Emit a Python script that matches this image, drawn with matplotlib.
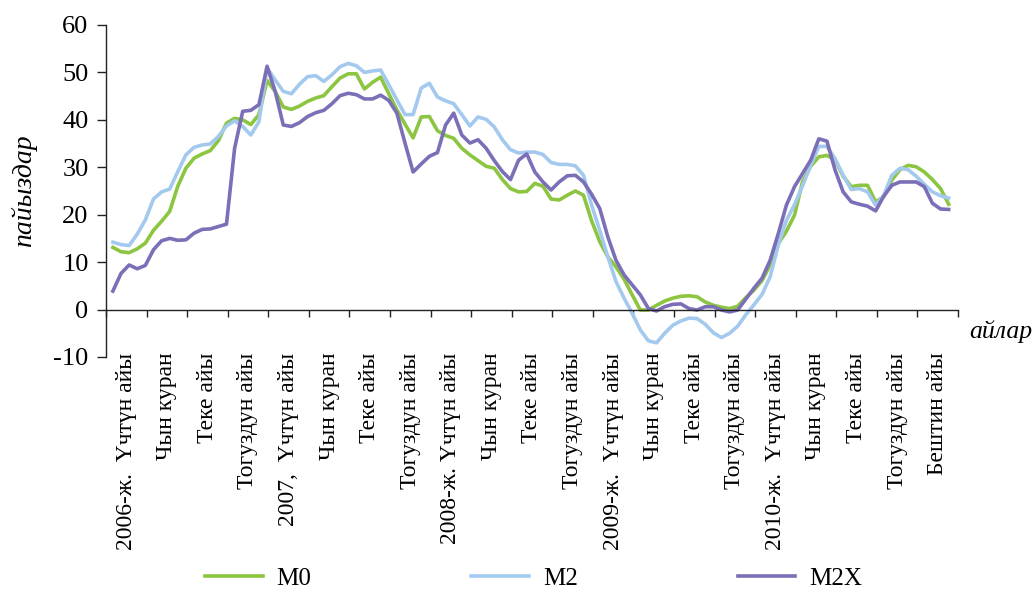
import numpy as np
import matplotlib
matplotlib.use("Agg")
import matplotlib.pyplot as plt
import matplotlib.transforms as mtransforms

plt.rcParams['font.family'] = ['Liberation Serif', 'DejaVu Serif']
plt.rcParams['axes.unicode_minus'] = False

# quarter labels (one per category band on the x axis)
quarters = ["2006-ж.  Үчтүн айы", "Чын куран", "Теке айы", "Тогуздун айы",
            "2007,  Үчтүн айы", "Чын куран", "Теке айы", "Тогуздун айы",
            "2008-ж. Үчтүн айы", "Чын куран", "Теке айы", "Тогуздун айы",
            "2009-ж.  Үчтүн айы", "Чын куран", "Теке айы", "Тогуздун айы",
            "2010-ж.  Үчтүн айы", "Чын куран", "Теке айы", "Тогуздун айы",
            "Бештин айы"]

m0 = [13.1, 12.2, 12.0, 12.8, 14.0, 16.7, 18.6, 20.7, 26.0, 29.8,
      31.9, 32.8, 33.5, 35.6, 39.3, 40.3, 40.0, 39.0, 41.1, 48.3,
      46.0, 42.7, 42.2, 42.9, 43.9, 44.6, 45.1, 47.0, 48.8, 49.7,
      49.7, 46.5, 47.9, 49.0, 45.5, 42.1, 39.1, 36.2, 40.6, 40.7,
      37.7, 36.7, 36.1, 34.0, 32.6, 31.4, 30.2, 29.8, 27.4, 25.5,
      24.8, 24.9, 26.6, 26.0, 23.3, 23.1, 24.1, 25.0, 24.1, 18.7,
      14.3, 11.1, 9.0, 6.4, 3.1, -0.1, -0.1, 0.9, 1.8, 2.4,
      2.8, 2.9, 2.7, 1.6, 0.9, 0.5, 0.2, 0.7, 2.5, 4.1,
      6.1, 9.4, 13.9, 16.5, 19.9, 27.0, 30.2, 32.2, 32.5, 31.5,
      28.1, 25.9, 26.2, 26.2, 22.7, 23.8, 27.3, 29.5, 30.4, 30.1,
      29.0, 27.4, 25.5, 22.2]

m2 = [14.2, 13.7, 13.5, 15.9, 18.9, 23.3, 24.8, 25.4, 29.1, 32.6,
      34.2, 34.7, 34.9, 36.5, 38.7, 39.8, 38.6, 36.8, 39.6, 51.0,
      48.4, 46.0, 45.5, 47.5, 49.1, 49.3, 48.1, 49.5, 51.2, 51.9,
      51.4, 50.0, 50.3, 50.5, 47.4, 44.2, 41.1, 41.1, 46.7, 47.7,
      44.8, 44.0, 43.4, 41.1, 38.7, 40.6, 40.1, 38.5, 35.8, 33.7,
      33.0, 33.2, 33.2, 32.7, 31.0, 30.6, 30.6, 30.3, 28.3, 22.0,
      16.7, 11.1, 5.9, 2.4, -0.8, -4.3, -6.6, -7.0, -5.0, -3.3,
      -2.4, -1.8, -1.9, -3.1, -4.9, -5.9, -5.0, -3.5, -1.1, 1.0,
      3.2, 6.9, 13.6, 18.8, 22.1, 26.1, 30.4, 34.4, 34.4, 31.8,
      28.3, 25.3, 25.5, 24.8, 22.0, 24.1, 28.3, 29.8, 29.5, 28.1,
      26.4, 24.8, 24.0, 23.5]

m2x = [3.9, 7.6, 9.4, 8.6, 9.3, 12.6, 14.5, 15.0, 14.6, 14.7,
       16.1, 16.9, 17.0, 17.5, 18.0, 34.0, 41.8, 42.0, 43.2, 51.3,
       46.0, 38.9, 38.6, 39.4, 40.7, 41.5, 42.0, 43.4, 45.1, 45.6,
       45.3, 44.4, 44.4, 45.2, 44.1, 41.4, 35.1, 29.0, 30.7, 32.3,
       33.1, 38.9, 41.4, 36.8, 35.1, 35.8, 34.0, 31.4, 29.1, 27.4,
       31.5, 32.8, 29.0, 26.9, 25.2, 26.9, 28.2, 28.3, 26.9, 24.3,
       21.3, 15.3, 10.4, 7.3, 5.2, 3.1, 0.2, -0.3, 0.6, 1.1,
       1.2, 0.2, -0.1, 0.6, 0.6, -0.1, -0.5, -0.1, 2.2, 4.5,
       6.6, 10.4, 16.0, 22.0, 25.9, 28.7, 31.5, 36.0, 35.5, 29.4,
       24.8, 22.7, 22.2, 21.8, 20.8, 23.9, 26.2, 26.9, 26.9, 26.9,
       25.9, 22.4, 21.2, 21.1]

x = 0.17 + 0.2 * np.arange(len(m0))

fig = plt.figure(figsize=(10.34, 5.94), dpi=100)
ax = fig.add_axes([0.1025, 0.399, 0.824, 0.559])

lw = 2.6
ax.plot(x, m0, color="#8cc540", lw=lw, label="M0", solid_joinstyle="round")
ax.plot(x, m2, color="#a3c9ee", lw=lw, label="M2", solid_joinstyle="round")
ax.plot(x, m2x, color="#7b6fb8", lw=lw, label="M2X", solid_joinstyle="round")

ax.set_xlim(0, len(quarters))
ax.set_ylim(-10, 60)
ax.set_yticks(range(-10, 61, 10))

ax.spines['top'].set_visible(False)
ax.spines['right'].set_visible(False)
ax.spines['bottom'].set_position(('data', 0))
for s in ('left', 'bottom'):
    ax.spines[s].set_color('#222222')
    ax.spines[s].set_linewidth(1.0)

ax.set_xticks(np.arange(len(quarters) + 1))
ax.set_xticklabels([])
ax.set_xticks(np.arange(len(quarters)) + 0.5, minor=True)
ax.set_xticklabels(quarters, minor=True, rotation=90, fontsize=17,
                   va='top', ha='center')
ax.tick_params(axis='x', which='major', direction='out', length=5,
               width=1.0, color='#222222')
ax.tick_params(axis='x', which='minor', length=0, pad=31)
ax.tick_params(axis='y', direction='out', length=6.5, width=1.0,
               color='#222222', labelsize=19, pad=6)

ax.text(-0.096, 0.5, "пайыздар", transform=ax.transAxes, rotation=90,
        ha='center', va='center', fontsize=20, style='italic')
trans = mtransforms.blended_transform_factory(ax.transAxes, ax.transData)
ax.text(1.013, -6.0, "айлар", transform=trans, ha='left', va='baseline',
        fontsize=18.5, style='italic')

fig.legend(loc='center', bbox_to_anchor=(0.516, 0.026), ncol=3,
           frameon=False, fontsize=18, handlelength=2.3,
           handletextpad=0.55, columnspacing=6.4, borderpad=0.1)

fig.savefig("out.png", dpi=100)
